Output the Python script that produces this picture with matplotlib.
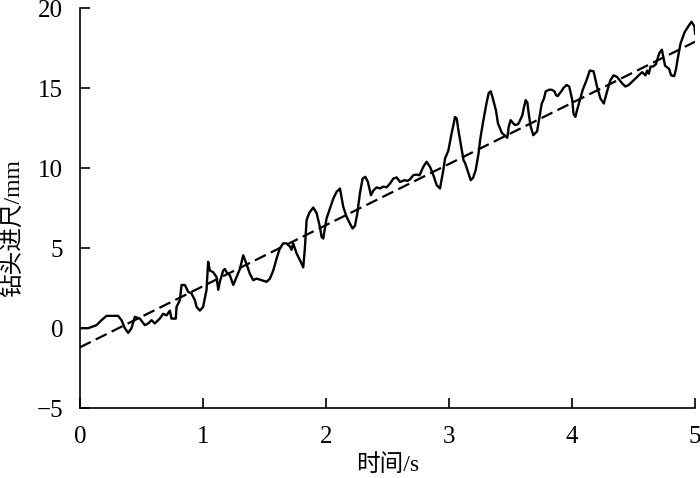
import matplotlib
matplotlib.use("Agg")
import matplotlib.pyplot as plt
import numpy as np

# Measured drilling footage curve (time s, footage mm)
time_s = [0.000, 0.068, 0.136, 0.176, 0.217, 0.311, 0.339, 0.366, 0.393, 0.420,
          0.447, 0.488, 0.528, 0.555, 0.583, 0.610, 0.650, 0.677, 0.705, 0.732,
          0.745, 0.780, 0.786, 0.813, 0.827, 0.854, 0.881, 0.908, 0.935, 0.949,
          0.976, 1.002, 1.016, 1.030, 1.043, 1.057, 1.084, 1.111, 1.125, 1.138,
          1.165, 1.179, 1.192, 1.220, 1.247, 1.274, 1.301, 1.328, 1.355, 1.382,
          1.409, 1.436, 1.477, 1.518, 1.545, 1.572, 1.599, 1.626, 1.653, 1.680,
          1.707, 1.721, 1.734, 1.762, 1.789, 1.816, 1.829, 1.843, 1.864, 1.897,
          1.924, 1.951, 1.965, 1.978, 2.005, 2.033, 2.060, 2.087, 2.114, 2.141,
          2.168, 2.195, 2.217, 2.236, 2.255, 2.276, 2.298, 2.320, 2.341, 2.366,
          2.385, 2.412, 2.439, 2.467, 2.493, 2.521, 2.548, 2.575, 2.602, 2.640,
          2.661, 2.683, 2.710, 2.734, 2.761, 2.791, 2.818, 2.846, 2.873, 2.900,
          2.927, 2.954, 2.968, 2.995, 3.022, 3.036, 3.049, 3.063, 3.076, 3.100,
          3.118, 3.132, 3.159, 3.177, 3.196, 3.217, 3.240, 3.253, 3.275, 3.294,
          3.306, 3.323, 3.339, 3.353, 3.382, 3.398, 3.430, 3.474, 3.486, 3.501,
          3.522, 3.537, 3.562, 3.575, 3.596, 3.607, 3.623, 3.637, 3.648, 3.664,
          3.685, 3.716, 3.740, 3.754, 3.772, 3.786, 3.813, 3.835, 3.857, 3.870,
          3.884, 3.902, 3.913, 3.929, 3.956, 3.977, 4.002, 4.012, 4.027, 4.040,
          4.067, 4.087, 4.118, 4.144, 4.175, 4.203, 4.231, 4.258, 4.285, 4.312,
          4.338, 4.366, 4.407, 4.434, 4.461, 4.475, 4.488, 4.515, 4.542, 4.569,
          4.597, 4.610, 4.624, 4.638, 4.659, 4.682, 4.695, 4.710, 4.730, 4.756,
          4.789, 4.805, 4.830, 4.845, 4.859, 4.882, 4.915, 4.948, 4.971, 4.995,
          5.000]
depth_mm = [0.00, 0.00, 0.19, 0.50, 0.77, 0.77, 0.50, 0.00, -0.29, 0.00,
            0.71, 0.60, 0.19, 0.29, 0.50, 0.30, 0.60, 0.90, 0.80, 1.10,
            0.60, 0.60, 1.33, 1.75, 2.70, 2.70, 2.27, 2.17, 1.75, 1.33,
            1.10, 1.33, 1.85, 2.40, 4.15, 3.60, 3.50, 3.20, 2.40, 2.90,
            3.60, 3.70, 3.50, 3.30, 2.70, 3.20, 3.70, 4.56, 4.00, 3.40,
            3.00, 3.10, 3.00, 2.90, 3.10, 3.60, 4.35, 5.00, 5.30, 5.30,
            5.10, 4.90, 5.30, 4.67, 4.25, 3.80, 5.00, 6.75, 7.20, 7.54,
            7.20, 6.33, 5.70, 5.60, 6.85, 7.48, 8.10, 8.52, 8.73, 7.58,
            6.96, 6.54, 6.23, 6.40, 7.17, 8.42, 9.35, 9.46, 9.14, 8.31,
            8.60, 8.80, 8.73, 8.85, 8.80, 9.04, 9.35, 9.42, 9.14, 9.25,
            9.20, 9.30, 9.56, 9.60, 9.56, 10.08, 10.40, 10.08, 9.56, 8.94,
            8.73, 9.88, 10.60, 11.10, 12.20, 12.70, 13.20, 13.10, 12.40, 11.30,
            10.50, 10.30, 9.67, 9.25, 9.40, 9.88, 10.90, 11.75, 12.80, 13.60,
            14.10, 14.70, 14.80, 14.45, 13.60, 12.80, 12.20, 11.90, 12.60, 13.00,
            12.80, 12.70, 12.75, 12.95, 13.30, 13.73, 14.25, 14.10, 13.40, 12.60,
            12.06, 12.30, 13.40, 14.04, 14.35, 14.80, 14.90, 14.90, 14.80, 14.56,
            14.50, 14.70, 14.80, 15.00, 15.20, 15.10, 14.25, 13.40, 13.20, 13.60,
            14.35, 14.90, 15.50, 16.10, 16.05, 15.10, 14.35, 14.04, 14.80, 15.50,
            15.80, 15.70, 15.30, 15.10, 15.20, 15.30, 15.40, 15.60, 15.80, 16.00,
            15.80, 16.10, 15.90, 16.35, 16.35, 16.50, 16.85, 17.20, 17.40, 16.40,
            16.20, 15.80, 15.75, 16.20, 16.85, 17.80, 18.50, 18.90, 19.15, 18.85,
            18.40]

# Linear fit line endpoints (dashed)
fit_x = [0.0, 5.0]
fit_y = [-1.2, 17.9]

x_ticks = [0, 1, 2, 3, 4, 5]
y_ticks = [-5, 0, 5, 10, 15, 20]
y_tick_labels = ["\u22125", "0", "5", "10", "15", "20"]

serif = ["Liberation Serif", "Noto Sans CJK SC"]

fig = plt.figure(figsize=(7.0, 4.78), dpi=100)
ax = fig.add_axes([0.114, 0.146, 0.879, 0.837])

n = min(len(time_s), len(depth_mm))
ax.plot(time_s[:n], depth_mm[:n], color="black", lw=1.7, solid_joinstyle="round")
ax.plot(fit_x, fit_y, color="black", lw=1.6, dashes=(5.5, 2.5))

ax.set_xlim(0, 5)
ax.set_ylim(-5, 20)
ax.set_xticks(x_ticks)
ax.set_yticks(y_ticks)
ax.set_xticklabels([str(v) for v in x_ticks], fontfamily=serif, fontsize=18)
ax.set_yticklabels(y_tick_labels, fontfamily=serif, fontsize=18)

for s in ["top", "right"]:
    ax.spines[s].set_visible(False)
for s in ["left", "bottom"]:
    ax.spines[s].set_linewidth(1.2)
ax.tick_params(axis="x", direction="in", length=7, width=1.2, pad=13)
ax.tick_params(axis="y", direction="in", length=7, width=1.2, pad=12)

ax.set_xlabel("时间/s", fontfamily=serif, fontsize=17)
ax.xaxis.set_label_coords(0.5, -0.115)
ax.set_ylabel("钻头进尺/mm", fontfamily=serif, fontsize=17)
ax.yaxis.set_label_coords(-0.089, 0.45)

fig.savefig("out.png", dpi=100)
